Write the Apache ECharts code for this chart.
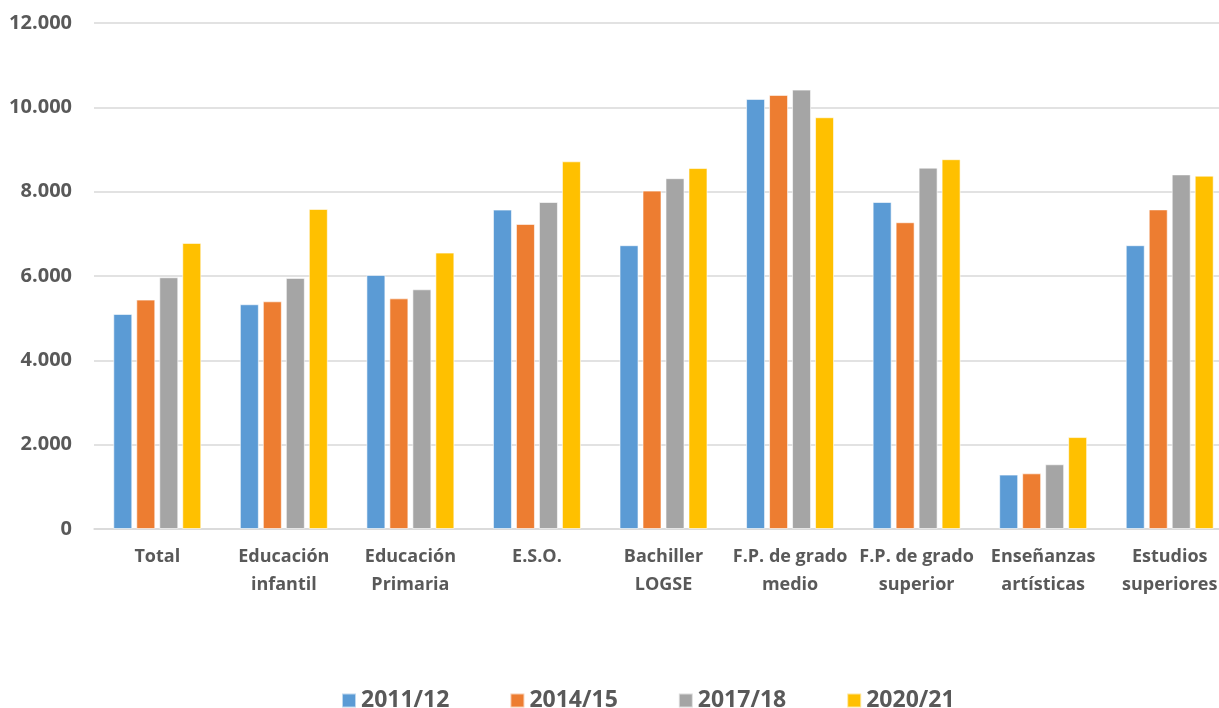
<!DOCTYPE html>
<html>
<head>
<meta charset="utf-8">
<script src="https://cdn.jsdelivr.net/npm/echarts@6/dist/echarts.min.js"></script>
<style>html,body{margin:0;padding:0;background:#fff}#c{width:1219px;height:708px}</style>
</head>
<body>
<div id="c"></div>
<script>
const categories = ["Total", "Educación\ninfantil", "Educación\nPrimaria", "E.S.O.", "Bachiller\nLOGSE", "F.P. de grado\nmedio", "F.P. de grado\nsuperior", "Enseñanzas\nartísticas", "Estudios\nsuperiores"];
const seriesNames = ["2011/12", "2014/15", "2017/18", "2020/21"];
const yTickLabels = ["0", "2.000", "4.000", "6.000", "8.000", "10.000", "12.000"];
const s2011 = [5100, 5330, 6025, 7575, 6730, 10200, 7755, 1290, 6730];
const s2014 = [5440, 5400, 5470, 7235, 8025, 10295, 7275, 1320, 7580];
const s2017 = [5970, 5955, 5685, 7755, 8320, 10420, 8570, 1535, 8410];
const s2020 = [6785, 7590, 6555, 8720, 8560, 9765, 8770, 2180, 8380];
const colors = ["#5b9bd5", "#ed7d31", "#a5a5a5", "#ffc000"];
const font = "'Open Sans', sans-serif";

const data = [s2011, s2014, s2017, s2020];
const chart = echarts.init(document.getElementById('c'), null, {renderer: 'canvas'});
chart.setOption({
  animation: false,
  color: colors,
  grid: {left: 94, right: -14, top: 23, bottom: 179, containLabel: false, outerBoundsMode: 'none'},
  legend: {
    top: 684, left: 336, itemWidth: 14, itemHeight: 14, itemGap: 60,
    icon: 'rect',
    textStyle: {color: '#595959', fontSize: 23, fontWeight: 'bold', fontFamily: font},
    data: seriesNames
  },
  xAxis: {
    type: 'category', data: categories,
    axisLine: {lineStyle: {color: '#d9d9d9', width: 1.5}},
    axisTick: {show: false},
    axisLabel: {color: '#595959', fontSize: 18, fontWeight: 'bold', fontFamily: font, lineHeight: 28, margin: 14, interval: 0}
  },
  yAxis: {
    type: 'value', min: 0, max: 12000, interval: 2000,
    axisLine: {show: false}, axisTick: {show: false},
    splitLine: {lineStyle: {color: '#d9d9d9', width: 1.5}},
    axisLabel: {color: '#595959', fontSize: 20, fontWeight: 'bold', fontFamily: font, margin: 22,
      formatter: v => yTickLabels[v / 2000]}
  },
  series: seriesNames.map((n, i) => ({
    name: n, type: 'bar', data: data[i], barWidth: 19, barGap: '21%',
    itemStyle: {borderColor: 'rgba(255,255,255,0.6)', borderWidth: 1}
  }))
});
</script>
</body>
</html>
